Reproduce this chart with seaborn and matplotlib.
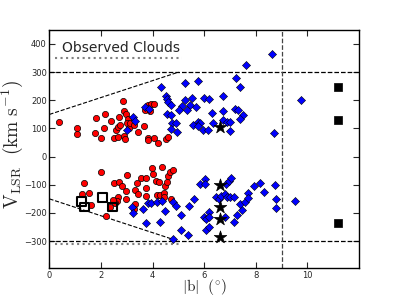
import matplotlib
matplotlib.use("Agg")
import matplotlib.pyplot as plt
import seaborn as sns
import pandas as pd

# red circles (positive / negative velocity clouds)
red_b_pos = [0.38, 1.06, 1.05, 1.78, 1.81, 1.98, 2.10, 2.14, 2.39, 2.49, 2.58, 2.65, 2.65, 2.71,
             2.74, 2.84, 2.89, 2.97, 3.05, 2.90, 2.94, 3.02, 3.10, 3.13, 3.29, 3.45, 3.67, 3.81,
             3.83, 3.71, 3.81, 3.93, 4.07, 3.88, 4.07, 4.21, 4.51, 4.60]
red_v_pos = [122, 102, 79, 85, 138, 66, 100, 152, 126, 65, 96, 68, 106, 142,
             112, 198, 161, 151, 135, 74, 61, 119, 100, 118, 113, 89, 108, 65,
             58, 167, 182, 186, 187, 161, 66, 49, 62, 68]
red_b_neg = [1.99, 1.33, 1.26, 1.55, 1.62, 2.18, 2.52, 2.71, 2.82, 3.02, 2.97, 2.65, 2.62, 2.53,
             2.45, 2.35, 2.97, 3.31, 3.39, 3.45, 3.30, 3.28, 3.56, 3.74, 3.76, 3.76, 3.98, 4.02,
             4.38, 4.12, 4.25, 4.15, 4.30, 4.42, 4.47, 4.57, 4.61, 4.42, 4.66, 4.78, 4.72]
red_v_neg = [-56, -95, -132, -128, -171, -211, -95, -91, -104, -65, -121, -145, -158, -165,
             -155, -179, -152, -120, -93, -133, -168, -185, -75, -75, -110, -140, -40, -61,
             -35, -85, -91, -135, -137, -128, -105, -89, -70, -145, -55, -47, -152]

# blue diamonds
blue_b = [8.63, 7.62, 7.22, 7.40, 9.74, 8.72, 4.34, 5.25, 5.76, 4.53, 4.56, 4.61, 4.71, 5.25,
          5.53, 5.13, 5.44, 5.66, 5.02, 5.32, 5.97, 6.18, 6.72, 4.56, 4.72, 4.75, 4.70, 4.95,
          6.30, 6.71, 7.18, 7.31, 7.49, 7.40, 6.33, 6.74, 6.89, 6.98, 5.57, 5.75, 5.85, 5.76,
          5.94, 6.15, 6.99, 3.22, 3.33, 3.02, 3.70, 3.85, 4.89,
          3.18, 3.25, 3.61, 3.75, 3.81, 3.94, 4.15, 4.35, 4.29, 4.48, 4.80, 4.89, 4.79, 5.08,
          5.11, 5.37, 5.40, 5.61, 5.84, 6.01, 6.03, 5.97, 6.07, 6.17, 6.20, 6.08, 6.17, 6.47,
          6.58, 6.66, 6.81, 6.88, 6.98, 7.15, 6.79, 6.84, 6.94, 7.05, 7.15, 7.28, 7.46, 7.40,
          7.56, 7.69, 7.71, 7.92, 8.17, 8.31, 8.74, 8.78, 8.76, 9.51]
blue_v = [364, 324, 280, 247, 200, 85, 247, 262, 269, 214, 204, 195, 185, 200,
          208, 179, 185, 176, 164, 164, 207, 205, 214, 153, 147, 119, 98, 89,
          155, 161, 169, 164, 147, 132, 120, 131, 124, 124, 114, 124, 119, 108,
          95, 95, 91, 139, 125, 95, 176, 168, 118,
          -179, -199, -186, -234, -165, -165, -160, -156, -233, -193, -160, -174, -292, -208,
          -261, -279, -176, -151, -96, -80, -96, -214, -221, -197, -214, -259, -250, -144,
          -149, -140, -132, -144, -144, -144, -214, -96, -85, -75, -232, -208, -191, -168,
          -162, -128, -146, -104, -94, -124, -99, -149, -181, -156]

# black stars, open squares, filled squares
star_b = [6.60, 6.60, 6.60, 6.60, 6.60]
star_v = [106, -102, -180, -223, -285]
open_b = [1.25, 1.35, 2.07, 2.43]
open_v = [-158, -179, -146, -179]
fill_b = [11.2, 11.2, 11.2]
fill_v = [247, 130, -235]

sns.set_style("ticks")
plt.rcParams["mathtext.fontset"] = "cm"
plt.rcParams["font.family"] = ["DejaVu Sans"]

fig = plt.figure(figsize=(3.99, 2.99), dpi=100)
ax = fig.add_axes([0.124, 0.104, 0.776, 0.796])

red = pd.DataFrame({"b": red_b_pos + red_b_neg, "v": red_v_pos + red_v_neg})
blue = pd.DataFrame({"b": blue_b, "v": blue_v})
stars = pd.DataFrame({"b": star_b, "v": star_v})
opens = pd.DataFrame({"b": open_b, "v": open_v})
fills = pd.DataFrame({"b": fill_b, "v": fill_v})

# reference lines
ax.axhline(300, color="black", ls="--", lw=0.9, zorder=1)
ax.axhline(-300, color="black", ls="--", lw=0.9, zorder=1)
ax.axvline(9, color="#444444", ls="--", lw=0.9, zorder=1)
ax.plot([0, 5], [150, 300], color="black", ls="--", lw=0.8, zorder=1)
ax.plot([0, 5], [-150, -300], color="black", ls="--", lw=0.8, zorder=1)
ax.plot([0.2, 5.15], [350, 350], color="gray", ls=":", lw=1.5, zorder=1)
ax.plot([0.2, 5.15], [-310, -310], color="gray", ls=":", lw=1.5, zorder=1)

sns.scatterplot(data=red, x="b", y="v", ax=ax, marker="o", color="red",
                edgecolor="black", linewidth=0.5, s=20, zorder=3)
sns.scatterplot(data=blue, x="b", y="v", ax=ax, marker="D", color="blue",
                edgecolor="black", linewidth=0.4, s=17, zorder=3)
sns.scatterplot(data=stars, x="b", y="v", ax=ax, marker="*", color="black",
                edgecolor="black", linewidth=0.5, s=90, zorder=4)
sns.scatterplot(data=opens, x="b", y="v", ax=ax, marker="s", facecolor="none",
                edgecolor="black", linewidth=1.5, s=40, zorder=4)
sns.scatterplot(data=fills, x="b", y="v", ax=ax, marker="s", color="black",
                edgecolor="black", linewidth=0.5, s=30, zorder=4)

ax.text(0.5, 385, "Observed Clouds", fontsize=10, va="center", ha="left")

ax.set_xlim(0, 12)
ax.set_ylim(-395, 450)
ax.set_xticks([0, 2, 4, 6, 8, 10])
ax.set_yticks([-300, -200, -100, 0, 100, 200, 300, 400])
ax.tick_params(direction="in", top=True, right=True, labelsize=6, length=4, width=0.8, pad=2)
for s in ax.spines.values():
    s.set_linewidth(1.0)
    s.set_color("black")

ax.set_xlabel(r"$|\mathrm{b}|\ \ (^{\circ})$", fontsize=11, va="bottom")
ax.set_ylabel(r"$\mathrm{V_{LSR}}\ \ (\mathrm{km\ s^{-1}})$", fontsize=14)
ax.xaxis.set_label_coords(0.5, -0.122)
ax.yaxis.set_label_coords(-0.08, 0.52)

fig.savefig("out.png", dpi=100)
